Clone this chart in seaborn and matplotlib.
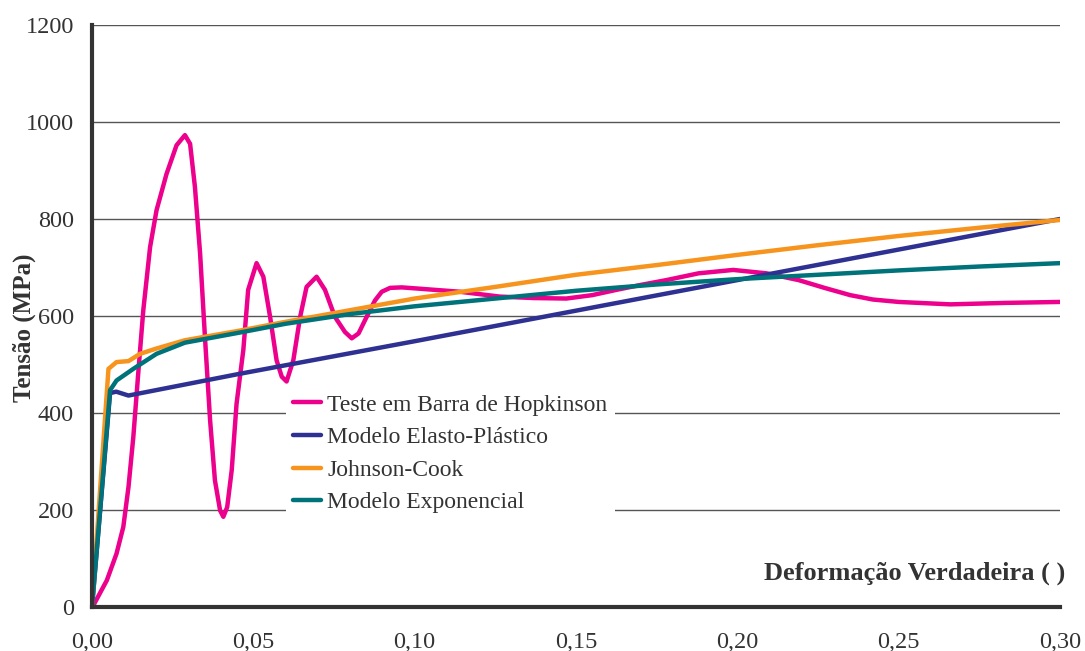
import matplotlib
matplotlib.use("Agg")
import matplotlib.pyplot as plt
import seaborn as sns
import pandas as pd

# ---- data ----
hop_x = [0.0, 0.0004, 0.0046, 0.0076, 0.0097, 0.0113, 0.0128, 0.0144, 0.0159, 0.0180, 0.0200,
         0.0231, 0.0262, 0.0288, 0.0304, 0.0319, 0.0335, 0.0350, 0.0366, 0.0381, 0.0397, 0.0407,
         0.0419, 0.0433, 0.0448, 0.0469, 0.0484, 0.0510, 0.0531, 0.0552, 0.0572, 0.0588, 0.0603,
         0.0624, 0.0645, 0.0665, 0.0696, 0.0722, 0.0753, 0.0784, 0.0805, 0.0826, 0.0851, 0.0877,
         0.0898, 0.0924, 0.0960, 0.1001, 0.114, 0.1264, 0.137, 0.147, 0.155, 0.1626, 0.170, 0.178,
         0.188, 0.1987, 0.209, 0.219, 0.227, 0.235, 0.242, 0.250, 0.266, 0.283, 0.300]
hop_y = [0, 3, 55, 110, 165, 247, 350, 488, 612, 742, 818,
         893, 952, 973, 955, 866, 729, 557, 385, 261, 199, 186,
         206, 282, 419, 530, 654, 709, 681, 598, 509, 475, 465,
         509, 598, 660, 681, 654, 598, 567, 554, 564, 598, 632,
         650, 658, 659, 657, 650, 640, 637, 636, 643, 654, 664, 674,
         688, 695, 688, 674, 658, 643, 634, 629, 624, 627, 629]

ep_x = [0.0, 0.0056, 0.0075, 0.0113, 0.0459, 0.10, 0.15, 0.20, 0.25, 0.30]
ep_y = [0, 441, 444, 436, 481, 548, 611, 674, 737, 800]

jc_x = [0.0, 0.0051, 0.0076, 0.0113, 0.0149, 0.0200, 0.0288, 0.0459, 0.060, 0.080, 0.100, 0.125,
        0.150, 0.175, 0.200, 0.225, 0.250, 0.275, 0.300]
jc_y = [0, 491, 505, 507, 522, 533, 550, 570, 588, 612, 636, 660,
        685, 705, 726, 746, 765, 782, 798]

ex_x = [0.0, 0.0056, 0.0076, 0.0128, 0.0200, 0.0288, 0.0459, 0.060, 0.080, 0.100, 0.125,
        0.150, 0.175, 0.200, 0.225, 0.250, 0.275, 0.300]
ex_y = [0, 447, 467, 491, 522, 545, 566, 584, 604, 620, 636,
        652, 665, 676, 685, 694, 702, 709]

labels = ["Teste em Barra de Hopkinson", "Modelo Elasto-Plástico", "Johnson-Cook", "Modelo Exponencial"]
colors = ["#EC008C", "#2E3192", "#F7941D", "#00727A"]

x_ticks = [0.0, 0.05, 0.10, 0.15, 0.20, 0.25, 0.30]
x_ticklabels = ["0,00", "0,05", "0,10", "0,15", "0,20", "0,25", "0,30"]
y_ticks = [0, 200, 400, 600, 800, 1000, 1200]

# ---- plot ----
sns.set_style("white")
plt.rcParams["font.family"] = ["Liberation Serif", "DejaVu Serif"]
text_color = "#333333"

fig = plt.figure(figsize=(10.85, 6.51), dpi=100)
ax = fig.add_axes([92 / 1085, 1 - 607 / 651, 968 / 1085, 582 / 651])

series = [(hop_x, hop_y), (ep_x, ep_y), (jc_x, jc_y), (ex_x, ex_y)]
for (xs, ys), lab, col in zip(series, labels, colors):
    df = pd.DataFrame({"x": xs, "y": ys})
    sns.lineplot(data=df, x="x", y="y", ax=ax, color=col, lw=3.2, label=lab,
                 sort=False, estimator=None, solid_joinstyle="round", solid_capstyle="round",
                 zorder=3)

ax.set_xlim(0, 0.30)
ax.set_ylim(0, 1200)
ax.set_xticks(x_ticks)
ax.set_xticklabels(x_ticklabels)
ax.set_yticks(y_ticks)

for y in y_ticks[1:]:
    ax.axhline(y, color="#555555", lw=1.0, zorder=1)

for s in ["top", "right"]:
    ax.spines[s].set_visible(False)
for s in ["left", "bottom"]:
    ax.spines[s].set_color("#333333")
    ax.spines[s].set_linewidth(3)
    ax.spines[s].set_zorder(4)

ax.tick_params(axis="both", which="major", direction="out", length=7, width=3,
               color="#333333", labelsize=17.5, labelcolor=text_color)
ax.tick_params(axis="x", pad=11)
ax.tick_params(axis="y", pad=6)

ax.set_xlabel("Deformação Verdadeira ( )", fontsize=19, fontweight="bold", color=text_color)
ax.xaxis.set_label_coords(1.005, 0.058)
ax.xaxis.label.set_ha("right")
ax.xaxis.label.set_va("center")

ax.set_ylabel("Tensão (MPa)", fontsize=18, fontweight="bold", color=text_color)
ax.yaxis.set_label_coords(-0.070, 0.479)
ax.yaxis.label.set_va("center")

leg = ax.legend(loc="upper left", bbox_to_anchor=(0.2004, 0.378), fontsize=17,
                frameon=True, facecolor="white", edgecolor="none", framealpha=1,
                fancybox=False, handlelength=1.2, handletextpad=0.25,
                labelspacing=0.47, borderpad=0.3, borderaxespad=0)
leg.set_zorder(2)
for t in leg.get_texts():
    t.set_color(text_color)
for h in leg.get_lines():
    h.set_linewidth(3.2)

fig.savefig("out.png", dpi=100)
